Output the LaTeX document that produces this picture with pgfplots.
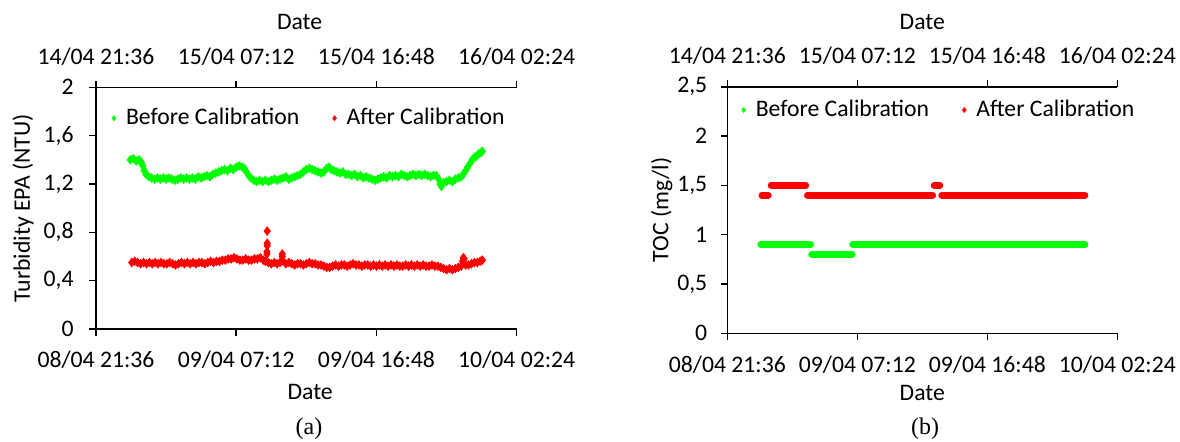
\documentclass[border=0pt]{standalone}
\usepackage{fontspec}
\setmainfont{Carlito}
\newfontfamily\captionfont{Liberation Serif}
\usepackage{pgfplots}
\pgfplotsset{compat=1.18}

\definecolor{calgreen}{RGB}{0,255,0}
\definecolor{calred}{RGB}{255,0,0}

% x is measured in hours after 08/04 21:36 (bottom axis) / 14/04 21:36 (top axis)
\pgfplotsset{
  datebox/.style={
    scale only axis, anchor=south west,
    xmin=0, xmax=28.8,
    xtick={0,9.6,19.2,28.8},
    tick align=outside, major tick length=3.35pt,
    axis line style={line width=0.8pt},
    tick style={line width=0.8pt, black},
    /pgf/number format/assume math mode=true,
    /pgf/number format/use comma,
    clip=false,
  },
  calleg/.style={
    legend style={draw=none, fill=none, legend columns=2, anchor=west,
      inner sep=0pt, outer sep=0pt, nodes={inner sep=1pt},
      /tikz/every odd column/.append style={column sep=4pt},
      /tikz/every even column/.append style={column sep=15.6pt}},
    legend cell align=left,
    legend image code/.code={\draw[##1, line width=0.1pt, only marks, mark=diamond*,
      mark size=1.4pt, mark options={line width=0.1pt}]
      plot coordinates {(0pt,0pt)};},
  },
}

\begin{document}
\begin{tikzpicture}[font=\fontsize{11.85}{14}\selectfont]
\useasboundingbox (0,0) rectangle (590pt,220.5pt);

% ---------------- (a) turbidity ----------------
\begin{axis}[datebox, calleg, at={(48pt,56pt)}, width=210.35pt, height=120.85pt,
  axis x line*=bottom, axis y line*=left,
  ymin=0, ymax=2, ytick={0,0.4,0.8,1.2,1.6,2},
  xticklabels={08/04 21:36, 09/04 07:12, 09/04 16:48, 10/04 02:24},
  xticklabel style={yshift=-4.3pt},
  yticklabel style={xshift=-4.3pt},
  xlabel=Date, xlabel style={at={(axis description cs:0.509,0)}, anchor=center, yshift=-31.5pt},
  ylabel={Turbidity EPA (NTU)},
  ylabel style={at={(axis description cs:0,0.5)}, anchor=center, yshift=36.5pt},
  legend style={at={(axis description cs:0.0378,0.872)}},
]
\addplot[only marks, mark=diamond*, mark size=2.1pt, color=calgreen] coordinates {
(2.35,1.40) (2.55,1.41) (2.75,1.39) (2.95,1.40) (3.10,1.38) (3.20,1.35) (3.30,1.31)
(3.42,1.28) (3.60,1.26) (3.80,1.25) (4.00,1.24) (4.20,1.25) (4.40,1.24) (4.60,1.25)
(4.80,1.24) (5.00,1.25) (5.20,1.24) (5.40,1.23) (5.60,1.24) (5.80,1.25) (6.00,1.24)
(6.20,1.25) (6.40,1.24) (6.60,1.25) (6.80,1.24) (7.00,1.26) (7.20,1.25) (7.40,1.26)
(7.60,1.27) (7.80,1.26) (8.00,1.28) (8.20,1.29) (8.40,1.30) (8.60,1.31) (8.80,1.32)
(9.00,1.31) (9.20,1.33) (9.40,1.32) (9.60,1.34) (9.80,1.35) (10.00,1.34) (10.15,1.33)
(10.30,1.30) (10.45,1.27) (10.60,1.25) (10.80,1.23) (11.00,1.22) (11.20,1.23) (11.40,1.22)
(11.60,1.23) (11.80,1.22) (12.00,1.23) (12.20,1.24) (12.40,1.23) (12.60,1.24) (12.80,1.25)
(13.00,1.26) (13.20,1.24) (13.40,1.25) (13.60,1.26) (13.80,1.27) (14.00,1.28) (14.20,1.30)
(14.40,1.32) (14.60,1.33) (14.80,1.32) (15.00,1.31) (15.20,1.30) (15.40,1.29) (15.60,1.30)
(15.80,1.33) (15.95,1.34) (16.10,1.32) (16.30,1.31) (16.50,1.30) (16.70,1.29) (16.90,1.30)
(17.10,1.28) (17.30,1.28) (17.50,1.27) (17.70,1.28) (17.90,1.26) (18.10,1.27) (18.30,1.25)
(18.50,1.26) (18.70,1.25) (18.90,1.24) (19.10,1.23) (19.30,1.24) (19.50,1.25) (19.70,1.26)
(19.90,1.25) (20.10,1.27) (20.30,1.26) (20.50,1.27) (20.70,1.26) (20.90,1.28) (21.10,1.27)
(21.30,1.26) (21.50,1.27) (21.70,1.28) (21.90,1.27) (22.10,1.28) (22.30,1.27) (22.50,1.28)
(22.70,1.27) (22.90,1.26) (23.10,1.27) (23.30,1.27) (23.45,1.24) (23.55,1.20) (23.65,1.18)
(23.80,1.21) (24.00,1.22) (24.20,1.23) (24.40,1.22) (24.60,1.24) (24.80,1.25) (25.00,1.26)
(25.15,1.28) (25.30,1.31) (25.45,1.34) (25.60,1.37) (25.75,1.40) (25.90,1.42) (26.05,1.43)
(26.20,1.45) (26.35,1.46) (26.45,1.47)
};
\addlegendentry{Before Calibration}
\addplot[only marks, mark=diamond*, mark size=2.1pt, color=calred] coordinates {
(2.45,0.55) (2.65,0.56) (2.85,0.55) (3.05,0.54) (3.25,0.55) (3.45,0.54) (3.65,0.55)
(3.85,0.54) (4.05,0.55) (4.25,0.54) (4.45,0.55) (4.65,0.54) (4.85,0.54) (5.05,0.55)
(5.25,0.54) (5.45,0.53) (5.65,0.54) (5.85,0.55) (6.05,0.54) (6.25,0.55) (6.45,0.54)
(6.65,0.55) (6.85,0.54) (7.05,0.55) (7.25,0.55) (7.45,0.54) (7.65,0.55) (7.85,0.56)
(8.05,0.55) (8.25,0.56) (8.45,0.56) (8.65,0.57) (8.85,0.57) (9.05,0.58) (9.25,0.58)
(9.45,0.59) (9.65,0.58) (9.85,0.57) (10.05,0.57) (10.25,0.58) (10.45,0.57) (10.65,0.57)
(10.85,0.58) (11.05,0.58) (11.25,0.59) (11.45,0.57) (11.60,0.56) (11.70,0.62) (11.70,0.64)
(11.72,0.69) (11.72,0.71) (11.72,0.81) (11.80,0.55) (12.00,0.54) (12.20,0.55) (12.40,0.54)
(12.60,0.55) (12.75,0.60) (12.75,0.62) (12.80,0.56) (13.00,0.54) (13.20,0.55) (13.40,0.54)
(13.60,0.53) (13.80,0.54) (14.00,0.54) (14.20,0.53) (14.40,0.54) (14.60,0.55) (14.80,0.54)
(15.00,0.54) (15.20,0.53) (15.40,0.53) (15.60,0.52) (15.80,0.51) (16.00,0.51) (16.20,0.52)
(16.40,0.53) (16.60,0.52) (16.80,0.53) (17.00,0.53) (17.20,0.52) (17.40,0.53) (17.60,0.54)
(17.80,0.53) (18.00,0.53) (18.20,0.52) (18.40,0.53) (18.60,0.53) (18.80,0.52) (19.00,0.53)
(19.20,0.52) (19.40,0.53) (19.60,0.52) (19.80,0.53) (20.00,0.52) (20.20,0.53) (20.40,0.52)
(20.60,0.53) (20.80,0.52) (21.00,0.52) (21.20,0.53) (21.40,0.52) (21.60,0.53) (21.80,0.52)
(22.00,0.53) (22.20,0.52) (22.40,0.53) (22.60,0.52) (22.80,0.52) (23.00,0.53) (23.20,0.52)
(23.40,0.52) (23.60,0.51) (23.80,0.50) (24.00,0.49) (24.20,0.50) (24.40,0.49) (24.60,0.50)
(24.80,0.51) (25.00,0.52) (25.10,0.56) (25.15,0.59) (25.20,0.58) (25.30,0.53) (25.50,0.53)
(25.70,0.54) (25.90,0.55) (26.10,0.55) (26.30,0.56) (26.45,0.57)
};
\addlegendentry{After Calibration}
\end{axis}
\begin{axis}[datebox, at={(48pt,56pt)}, width=210.35pt, height=120.85pt,
  ymin=0, ymax=2, axis x line*=top, hide y axis,
  xticklabels={14/04 21:36, 15/04 07:12, 15/04 16:48, 16/04 02:24},
  xticklabel style={yshift=4pt},
  xlabel=Date, xlabel style={at={(axis description cs:0.484,1)}, anchor=center, yshift=32.8pt},
]
\end{axis}

% ---------------- (b) TOC ----------------
\begin{axis}[datebox, calleg, at={(363.65pt,53.85pt)}, width=195pt, height=123.3pt,
  axis x line*=bottom, axis y line*=left,
  ymin=0, ymax=2.5, ytick={0,0.5,1,1.5,2,2.5},
  xticklabels={08/04 21:36, 09/04 07:12, 09/04 16:48, 10/04 02:24},
  xticklabel style={yshift=-4.3pt},
  yticklabel style={xshift=-3.15pt},
  xlabel=Date, xlabel style={at={(axis description cs:0.5,0)}, anchor=center, yshift=-30pt},
  ylabel={TOC (mg/l)},
  ylabel style={at={(axis description cs:0,0.5)}, anchor=center, yshift=32.8pt},
  legend style={at={(axis description cs:0.0367,0.9055)}},
  unbounded coords=jump,
]
\addplot[color=calgreen, line width=3.3pt, line cap=round, mark=none] coordinates {
(2.47,0.9) (3.5,0.9) (4.5,0.9) (5.5,0.9) (6.16,0.9)
(6.2,nan)
(6.23,0.8) (7.2,0.8) (8.2,0.8) (9.23,0.8)
(9.25,nan)
(9.26,0.9) (10,0.9) (11,0.9) (12,0.9) (13,0.9) (14,0.9) (15,0.9) (16,0.9) (17,0.9)
(18,0.9) (19,0.9) (20,0.9) (21,0.9) (22,0.9) (23,0.9) (24,0.9) (25,0.9) (26,0.9) (26.42,0.9)
};
\addlegendentry{Before Calibration}
\addplot[color=calred, line width=3.3pt, line cap=round, mark=none] coordinates {
(2.55,1.4) (2.8,1.4) (3.03,1.4)
(3.1,nan)
(3.23,1.5) (4.0,1.5) (4.8,1.5) (5.8,1.5)
(5.85,nan)
(5.91,1.4) (7,1.4) (8,1.4) (9,1.4) (10,1.4) (11,1.4) (12,1.4) (13,1.4) (14,1.4) (15.17,1.4)
(15.2,nan)
(15.27,1.5) (15.49,1.5) (15.71,1.5)
(15.77,nan)
(15.83,1.4) (17,1.4) (18,1.4) (19,1.4) (20,1.4) (21,1.4) (22,1.4) (23,1.4) (24,1.4)
(25,1.4) (26,1.4) (26.42,1.4)
};
\addlegendentry{After Calibration}
\end{axis}
\begin{axis}[datebox, at={(363.65pt,53.85pt)}, width=195pt, height=123.3pt,
  ymin=0, ymax=2.5, axis x line*=top, hide y axis,
  xticklabels={14/04 21:36, 15/04 07:12, 15/04 16:48, 16/04 02:24},
  xticklabel style={yshift=4pt},
  xlabel=Date, xlabel style={at={(axis description cs:0.5,1)}, anchor=center, yshift=32.5pt},
]
\end{axis}

\node[font=\captionfont\fontsize{12}{14}\selectfont] at (154.5pt,6pt) {(a)};
\node[font=\captionfont\fontsize{12}{14}\selectfont] at (462.5pt,6pt) {(b)};
\end{tikzpicture}
\end{document}
